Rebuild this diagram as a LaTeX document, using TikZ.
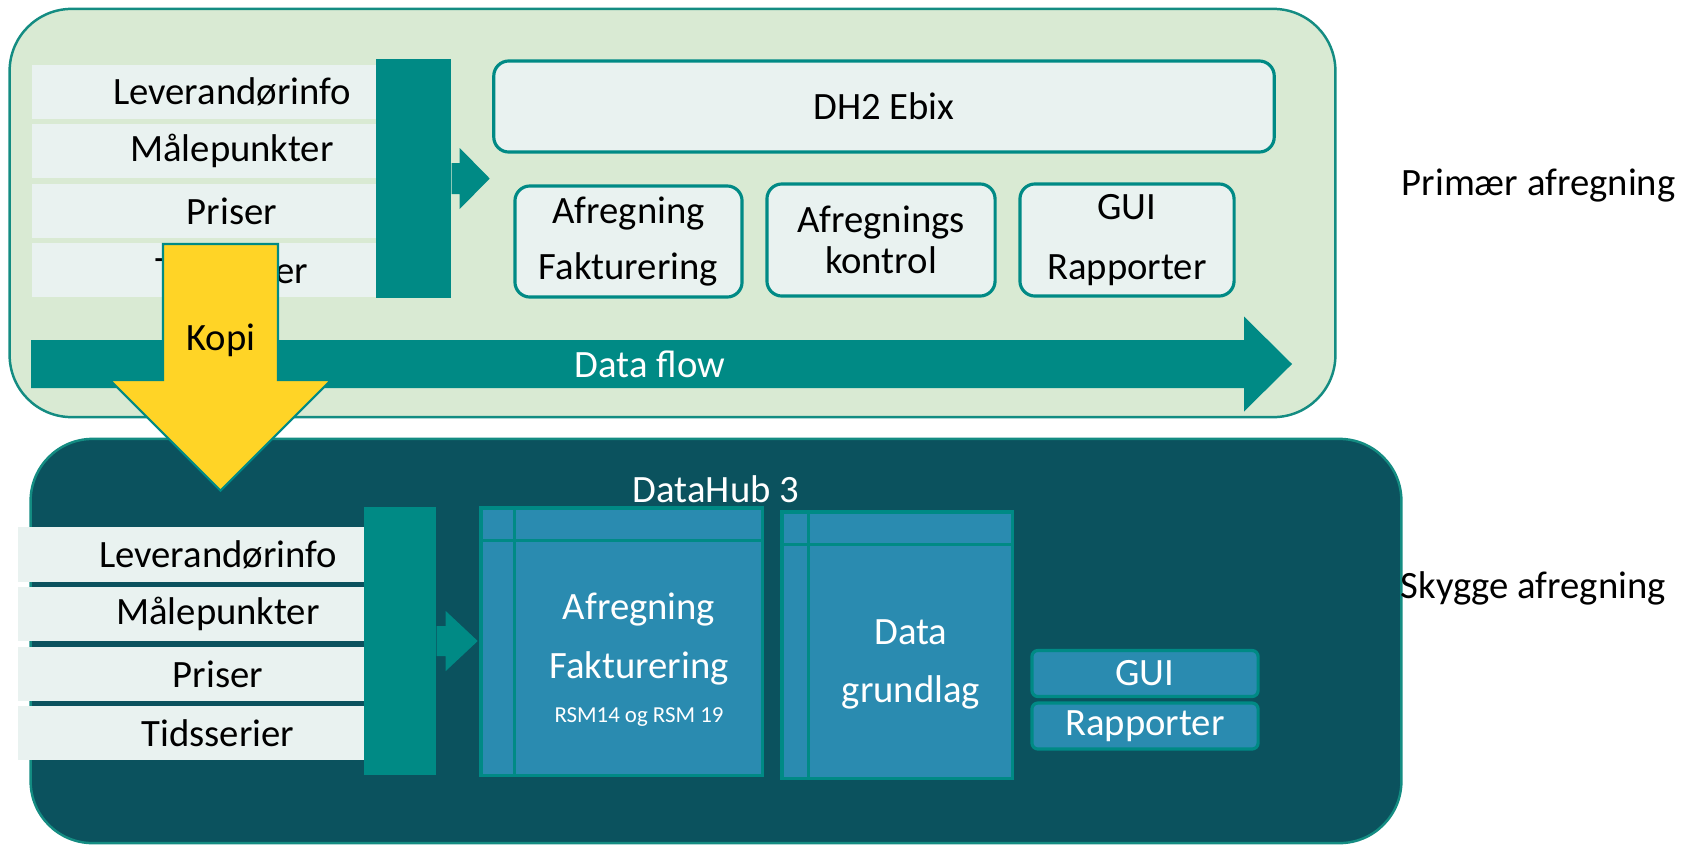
\documentclass[tikz,border=0pt]{standalone}
\usepackage{fontspec}
\setmainfont{Carlito}
\usetikzlibrary{positioning}
\definecolor{panelgreen}{RGB}{217,234,211}
\definecolor{panelline}{RGB}{20,140,130}
\definecolor{tealbar}{RGB}{0,138,133}
\definecolor{rowfill}{RGB}{233,242,240}
\definecolor{hubdark}{RGB}{11,82,94}
\definecolor{hubblue}{RGB}{42,139,176}
\definecolor{kopiyellow}{RGB}{255,212,38}
\tikzstyle{panel} = [rectangle, rounded corners=0.62cm, draw=panelline, line width=0.7pt]
\tikzstyle{rowbox} = [rectangle, minimum width=4cm, minimum height=0.53cm, inner sep=0pt, fill=rowfill, font=\fontsize{11}{13}\selectfont]
\tikzstyle{feedbar} = [rectangle, inner sep=0pt, fill=tealbar]
\tikzstyle{pointer} = [fill=tealbar]
\tikzstyle{ebixbox} = [rectangle, rounded corners=0.15cm, draw=tealbar, line width=0.9pt, fill=rowfill, inner sep=0pt, align=center, font=\fontsize{11}{16}\selectfont]
\tikzstyle{hubbox} = [rectangle, draw=tealbar, line width=0.9pt, fill=hubblue, inner sep=0pt]
\tikzstyle{hubline} = [draw=tealbar, line width=1pt]
\tikzstyle{hubtext} = [align=center, text=white, font=\fontsize{11}{16.5}\selectfont]
\tikzstyle{guibox} = [rectangle, rounded corners=0.06cm, draw=tealbar, line width=0.9pt, fill=hubblue, inner sep=0pt, minimum width=2.26cm, minimum height=0.46cm, text=white, font=\fontsize{11}{13}\selectfont]
\tikzstyle{sidetext} = [anchor=west, inner sep=0pt, font=\fontsize{11}{13}\selectfont]
\tikzstyle{label} = [font=\fontsize{11}{13}\selectfont]

\begin{document}
\begin{tikzpicture}[x=0.01cm, y=-0.01cm]
	\useasboundingbox (0,0) rectangle (1698,845);
	
	\node (primaer) [panel, fill=panelgreen, minimum width=13.25cm, minimum height=4.08cm] at (672.5,213) {};
	
	\node (leverTop) [rowbox] at (232,92) {Leverandørinfo};
	\node (maaleTop) [rowbox] at (232,151) {Målepunkter};
	\node (priserTop) [rowbox] at (232,211) {Priser};
	\node (tidTop) [rowbox] at (232,270) {Tidsserier};
	
	\node (barTop) [feedbar, minimum width=0.75cm, minimum height=2.39cm] at (413.5,178.5) {};
	\fill [pointer] (barTop.east) ++(0,-15.5) -- ++(8,0) -- ++(0,-15) -- ++(30,30.5) -- ++(-30,30.5) -- ++(0,-15) -- ++(-8,0) -- cycle;
	
	\node (ebix) [ebixbox, minimum width=7.8cm, minimum height=0.91cm] at (884,106.5) {DH2 Ebix};
	\node (afrTop) [ebixbox, minimum width=2.27cm, minimum height=1.11cm] at (628.5,241.5) {Afregning\\Fakturering};
	\node (kontrol) [ebixbox, minimum width=2.28cm, minimum height=1.12cm, font=\fontsize{11}{11.5}\selectfont] at (881,240) {Afregnings\\kontrol};
	\node (guiTop) [ebixbox, minimum width=2.14cm, minimum height=1.12cm, font=\fontsize{11}{17}\selectfont] at (1127,240) {GUI\\Rapporter};
	
	\coordinate (flowTail) at (31,364);
	\fill [pointer] (flowTail) ++(0,-24) -- ++(1213,0) -- ++(0,-23.5) -- ++(48,47.5) -- ++(-48,47.5) -- ++(0,-23.5) -- ++(-1213,0) -- cycle;
	\node (flow) [label, text=white] at (650,364) {Data flow};
	
	\node (primTxt) [sidetext] at (1401,186) {Primær afregning};
	
	% skygge afregning
	\node (skygge) [panel, fill=hubdark, minimum width=13.7cm, minimum height=4.04cm] at (716,641) {};
	\node (hubTitle) [label, text=white] at (716,489) {DataHub 3};
	
	\node (leverBot) [rowbox, minimum height=0.54cm] at (218,554.5) {Leverandørinfo};
	\node (maaleBot) [rowbox, minimum height=0.54cm] at (218,614) {Målepunkter};
	\node (priserBot) [rowbox, minimum height=0.54cm] at (218,674) {Priser};
	\node (tidBot) [rowbox, minimum height=0.54cm] at (218,733) {Tidsserier};
	
	\node (barBot) [feedbar, minimum width=0.72cm, minimum height=2.68cm] at (400,641) {};
	\fill [pointer] (barBot.east) ++(0,-15) -- ++(9,0) -- ++(0,-15) -- ++(32,30) -- ++(-32,30) -- ++(0,-15) -- ++(-9,0) -- cycle;
	
	\node (afrBot) [hubbox, minimum width=2.81cm, minimum height=2.67cm] at (621.5,641.5) {};
	\draw [hubline] ([xshift=0.35cm]afrBot.north west) -- ([xshift=0.35cm]afrBot.south west);
	\draw [hubline] ([yshift=-0.34cm]afrBot.north west) -- ([yshift=-0.34cm]afrBot.north east);
	\node (afrBotTxt) [hubtext] at (639,639) {Afregning\\Fakturering};
	\node (rsmTxt) [text=white, font=\fontsize{6.5}{8}\selectfont] at (639,717) {RSM14 og RSM 19};
	
	\node (grundlag) [hubbox, minimum width=2.3cm, minimum height=2.66cm] at (897,645) {};
	\draw [hubline] ([xshift=0.28cm]grundlag.north west) -- ([xshift=0.28cm]grundlag.south west);
	\draw [hubline] ([yshift=-0.34cm]grundlag.north west) -- ([yshift=-0.34cm]grundlag.north east);
	\node (grundTxt) [hubtext] at (911,664) {Data\\grundlag};
	
	\node (guiBot) [guibox] at (1145,673.5) {GUI};
	\node (rappBot) [guibox] at (1145,726) {Rapporter};
	
	\node (skyggeTxt) [sidetext] at (1400,588) {Skygge afregning};
	
	\coordinate (kopiTop) at (220.5,244);
	\filldraw [fill=kopiyellow, draw=tealbar, line width=0.6pt] (kopiTop) ++(-57.5,0) -- ++(115,0) -- ++(0,136) -- ++(53,0) -- ++(-110.5,110.5) -- ++(-110.5,-110.5) -- ++(53,0) -- cycle;
	\node (kopiTxt) [label] at (221,340) {Kopi};
\end{tikzpicture}
\end{document}
